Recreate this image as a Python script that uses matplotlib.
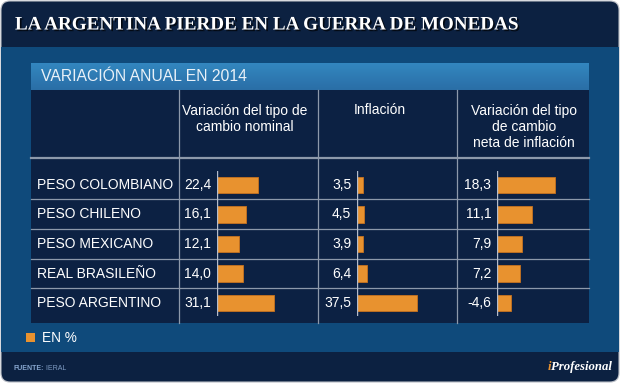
import matplotlib
matplotlib.use("Agg")
import matplotlib.pyplot as plt
import matplotlib.patheffects as pe
from matplotlib.patches import FancyBboxPatch, Rectangle
from matplotlib.colors import LinearSegmentedColormap
import numpy as np

# ---- data ----
title = "LA ARGENTINA PIERDE EN LA GUERRA DE MONEDAS"
subtitle = "VARIACIÓN ANUAL EN 2014"
categories = ["PESO COLOMBIANO", "PESO CHILENO", "PESO MEXICANO",
              "REAL BRASILEÑO", "PESO ARGENTINO"]
nominal = [22.4, 16.1, 12.1, 14.0, 31.1]
inflacion = [3.5, 4.5, 3.9, 6.4, 37.5]
neta = [18.3, 11.1, 7.9, 7.2, -4.6]
headers = ["Variación del tipo de\ncambio nominal", "Inflación",
           "Variación del tipo\nde cambio\nneta de inflación"]
legend_label = "EN %"
source_label = "FUENTE:"
source_value = "IERAL"

# ---- style ----
W, H = 621, 384
C_HEAD = "#0c2141"
C_BODY = "#0f4a7b"
C_TABLE = "#0c2143"
C_SUB_TOP = "#3387c0"
C_SUB_BOT = "#2a6ea6"
C_LINE = "#8d99ab"
C_BAR = "#e8922f"
C_BAR_EDGE = "#c7731f"
SANS = ["Liberation Sans", "DejaVu Sans"]
SERIF = ["Liberation Serif", "DejaVu Serif"]

fig = plt.figure(figsize=(W / 100, H / 100), dpi=100)
fig.patch.set_facecolor("white")
ax = fig.add_axes([0, 0, 1, 1])
ax.set_xlim(0, W)
ax.set_ylim(H, 0)
ax.axis("off")

# frame
ax.add_patch(FancyBboxPatch((1, 1), 618, 381, boxstyle="round,pad=0,rounding_size=9",
                            fc=C_HEAD, ec="#b8bcc4", lw=0.8, zorder=0))
ax.add_patch(Rectangle((1, 47), 618, 305, fc=C_BODY, ec="none", zorder=1))

# subtitle bar with gradient
grad = np.linspace(0, 1, 64).reshape(-1, 1)
cmap = LinearSegmentedColormap.from_list("g", [C_SUB_TOP, C_SUB_BOT])
ax.imshow(grad, cmap=cmap, extent=(31, 589, 90, 63), aspect="auto", zorder=2)
ax.set_xlim(0, W)
ax.set_ylim(H, 0)

# table background
ax.add_patch(Rectangle((31, 90), 558, 233, fc=C_TABLE, ec="none", zorder=2))

# table lines
for x in [179, 318, 457]:
    ax.plot([x, x], [90, 323], color=C_LINE, lw=0.9, zorder=3)
ax.plot([31, 589], [157.5, 157.5], color=C_LINE, lw=1.6, zorder=3)
for y in [198.5, 229, 258.5, 288]:
    ax.plot([31, 589], [y, y], color=C_LINE, lw=0.9, zorder=3)

# title
ax.text(15, 25, title, family=SERIF, weight="bold", fontsize=13.75, color="white",
        va="center", ha="left", zorder=5,
        path_effects=[pe.SimplePatchShadow(offset=(1.2, -1.2), shadow_rgbFace="black", alpha=0.7),
                      pe.Normal()])
# subtitle
ax.text(41, 76.5, subtitle, family=SANS, fontsize=11.3, color="#e9f1f8",
        va="center", ha="left", zorder=5)

# headers
hx = [245, 380, 524]
for x, t in zip(hx, headers):
    ax.text(x, 103.5, t, family=SANS, fontsize=10, color="white", ha="center",
            va="top", linespacing=1.22, zorder=5)

# row labels
row_y = [185 + 29.5 * i for i in range(len(categories))]
for y, c in zip(row_y, categories):
    ax.text(37, y, c, family=SANS, fontsize=10, color="white", ha="left",
            va="center", zorder=5)

# legend
ax.add_patch(Rectangle((26, 333), 9, 9, fc=C_BAR, ec="none", zorder=5))
ax.text(42, 337.5, legend_label, family=SANS, fontsize=9.8, color="white",
        ha="left", va="center", zorder=5)

# footer
t1 = ax.text(14, 368, source_label, family=SANS, weight="bold", fontsize=5,
             color="#87a6cf", ha="left", va="center", zorder=5)
ax.annotate(" " + source_value, xy=(1, 0.5), xycoords=t1, family=SANS, fontsize=5,
            color="#7f9cc4", ha="left", va="center", zorder=5)
tp = ax.text(612, 367, "Profesional", family=SERIF, style="italic", weight="bold",
             fontsize=9.2, color="white", ha="right", va="center", zorder=5)
ax.annotate("i", xy=(0, 0.5), xycoords=tp, family=SERIF, style="italic",
            weight="bold", fontsize=9.2, color=C_BAR, ha="right", va="center", zorder=5)


def fmt(v):
    return f"{v:.1f}".replace(".", ",")


# bar panels: (left px, right px, px per unit, values)
panels = [(217, 318, 1.83, nominal), (357, 457, 1.6, inflacion), (497, 589, 3.15, neta)]
y0, y1 = 171, 316
for x0, x1, scale, vals in panels:
    bax = fig.add_axes([x0 / W, 1 - y1 / H, (x1 - x0) / W, (y1 - y0) / H])
    bax.set_xlim(0, (x1 - x0) / scale)
    bax.set_ylim(4 + (y1 - row_y[-1]) / 29.5, (y0 - row_y[0]) / 29.5)
    bax.axis("off")
    bax.patch.set_alpha(0)
    pos = np.arange(len(vals))
    bax.barh(pos, np.abs(vals), height=0.56, color=C_BAR, edgecolor=C_BAR_EDGE,
             linewidth=0.6, zorder=3)
    bax.axvline(0, color="#b4bccb", lw=1.0, zorder=4)
    for p, v in zip(pos, vals):
        bax.annotate(fmt(v), xy=(0, p), xytext=(-4.2, 0), textcoords="offset points",
                     family=SANS, fontsize=10, color="white", ha="right", va="center")

fig.savefig("out.png", dpi=100, facecolor="white")
